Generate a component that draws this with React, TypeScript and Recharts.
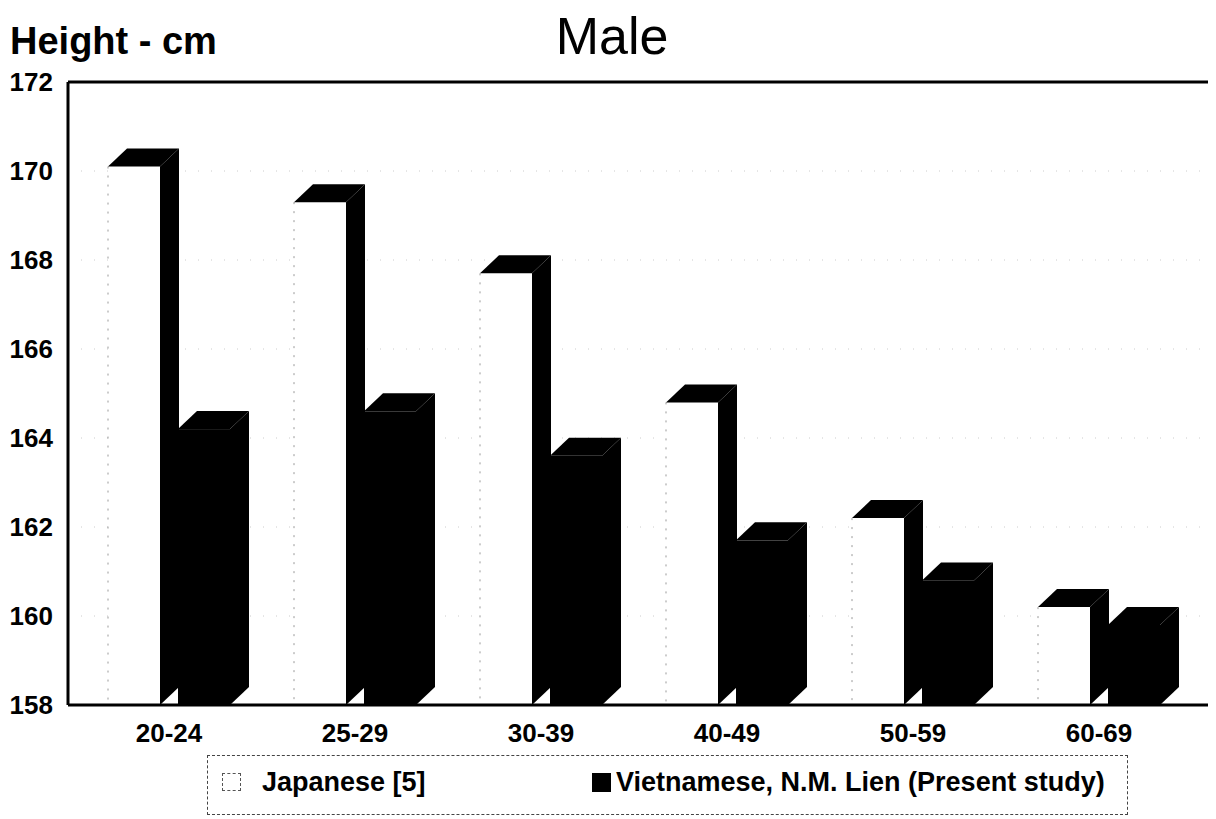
import React from 'react';
import { BarChart, Bar, XAxis, YAxis, CartesianGrid, Legend, ReferenceLine } from 'recharts';

const ageGroups = ['20-24', '25-29', '30-39', '40-49', '50-59', '60-69'];
const japanese = [170.1, 169.3, 167.7, 164.8, 162.2, 160.2];
const vietnamese = [164.2, 164.6, 163.6, 161.7, 160.8, 159.8];
const seriesNames = ['Japanese [5]', 'Vietnamese, N.M. Lien (Present study)'];
const yTicks = [158, 160, 162, 164, 166, 168, 170, 172];

const FONT = '"Liberation Sans", Arial, sans-serif';
const DX = 19; // 3d depth
const DY = 18;

const chartData = ageGroups.map((g, i) => ({ group: g, jp: japanese[i], vn: vietnamese[i] }));

// front face + black top and side, like the old excel 3d columns
const Box3D = (props: any) => {
    const { x, y, width, height, face } = props;
    if (height == null || isNaN(y)) return null;
    const r = x + width;
    const b = y + height;
    return (
        <g>
            <rect x={x} y={y} width={width} height={height} fill={face} />
            {face === '#fff' && (
                <line x1={x} y1={y} x2={x} y2={b} stroke="#999" strokeDasharray="2 7" />
            )}
            <polygon points={`${x},${y} ${x + DX},${y - DY} ${r + DX},${y - DY} ${r},${y}`} fill="#000" />
            <polygon points={`${r},${y} ${r + DX},${y - DY} ${r + DX},${b - DY} ${r},${b}`} fill="#000" />
        </g>
    );
};

const XTick = (props: any) => {
    const { x, y, payload } = props;
    return (
        <text x={x} y={y + 37} textAnchor="middle" fontFamily={FONT} fontWeight={700} fontSize={26} fill="#000">
            {payload.value}
        </text>
    );
};

const LegendBox = () => (
    <div style={{
        position: 'relative', boxSizing: 'border-box', width: 921, height: 60,
        border: '1px dashed #444', fontFamily: FONT, fontWeight: 700, fontSize: 27, color: '#000'
    }}>
        <span style={{ position: 'absolute', left: 14, top: 17, width: 19, height: 18, boxSizing: 'border-box', border: '1px dashed #555' }} />
        <span style={{ position: 'absolute', left: 54, top: 13, lineHeight: '27px', whiteSpace: 'nowrap' }}>{seriesNames[0]}</span>
        <span style={{ position: 'absolute', left: 384, top: 17, width: 19, height: 19, background: '#000' }} />
        <span style={{ position: 'absolute', left: 408, top: 13, lineHeight: '27px', whiteSpace: 'nowrap' }}>{seriesNames[1]}</span>
    </div>
);

export default function App() {
    return (
        <div style={{ position: 'relative', width: 1208, height: 811 }}>
            <div style={{ position: 'absolute', left: 2, top: 14, fontFamily: FONT, fontWeight: 700, fontSize: 38, lineHeight: '38px', whiteSpace: 'nowrap' }}>
                Height - cm
            </div>
            <div style={{ position: 'absolute', left: 0, width: 1208, top: 2, textAlign: 'center', fontFamily: FONT, fontSize: 52, lineHeight: '52px' }}>
                Male
            </div>
            <BarChart
                width={1208}
                height={811}
                data={chartData}
                margin={{ top: 74, right: 4, left: 0, bottom: 4 }}
                barSize={52}
                barGap={18}
            >
                <CartesianGrid vertical={false} stroke="#ccc" strokeDasharray="1 12" />
                <XAxis
                    dataKey="group"
                    height={50}
                    padding={{ left: 8, right: 20 }}
                    tickLine={false}
                    tickSize={0}
                    tickMargin={0}
                    tick={<XTick />}
                    axisLine={{ stroke: '#000', strokeWidth: 3 }}
                />
                <YAxis
                    width={60}
                    domain={[158, 172]}
                    ticks={yTicks}
                    interval={0}
                    tickLine={false}
                    tickSize={0}
                    tickMargin={15}
                    axisLine={{ stroke: '#000', strokeWidth: 3 }}
                    tick={{ fill: '#000', fontSize: 26, fontWeight: 700, fontFamily: FONT }}
                />
                <YAxis
                    yAxisId="right"
                    orientation="right"
                    width={0}
                    domain={[158, 172]}
                    tick={false}
                    tickLine={false}
                    axisLine={{ stroke: '#000', strokeWidth: 3 }}
                />
                <ReferenceLine y={172} stroke="#000" strokeWidth={3} />
                <Legend
                    verticalAlign="bottom"
                    content={() => <LegendBox />}
                    wrapperStyle={{ left: 199, bottom: 4, width: 921 }}
                />
                <Bar dataKey="jp" name={seriesNames[0]} fill="#fff" isAnimationActive={false} shape={(p: any) => <Box3D {...p} face="#fff" />} />
                <Bar dataKey="vn" name={seriesNames[1]} fill="#000" isAnimationActive={false} shape={(p: any) => <Box3D {...p} face="#000" />} />
            </BarChart>
        </div>
    );
}
